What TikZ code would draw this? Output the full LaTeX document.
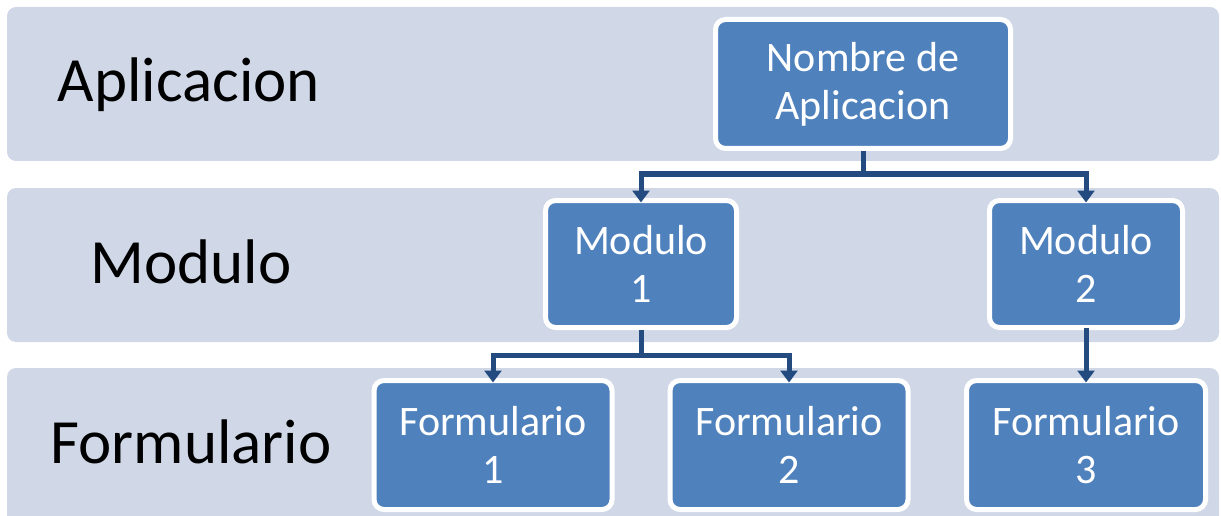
\documentclass[tikz,border=0pt]{standalone}
\usepackage{fontspec}
\setmainfont{Carlito}
\usetikzlibrary{arrows.meta}
\definecolor{bandfill}{HTML}{D0D8E8}
\definecolor{boxblue}{HTML}{4F81BD}
\definecolor{linkblue}{HTML}{234B7F}
\begin{document}
\begin{tikzpicture}[x=1pt,y=-1pt,
  bandbox/.style={fill=bandfill, rounded corners=9pt},
  bandlabel/.style={font=\fontsize{63}{70}\selectfont, text=black, anchor=base, inner sep=0pt},
  unit/.style={draw=white, line width=5pt, fill=boxblue, rounded corners=10pt, text=white,
    align=center, font=\fontsize{42}{48}\selectfont, inner sep=0pt, outer sep=0pt},
  link/.style={draw=linkblue, line width=5pt, line cap=rect, -{Triangle[width=17pt,length=12pt]}},
  plainlink/.style={draw=linkblue, line width=5pt}]
\useasboundingbox (0,0) rectangle (1221,516);
\clip (0,0) rectangle (1221,516);
% bands
\fill[bandbox] (7,7) rectangle (1219,161);
\fill[bandbox] (7,188) rectangle (1219,342);
\fill[bandbox] (7,368) rectangle (1219,530);
% band labels
\node[bandlabel] (lapp) at (189,102) {Aplicacion};
\node[bandlabel] (lmod) at (191,283) {Modulo};
\node[bandlabel] (lform) at (191,463) {Formulario};
% boxes
\node[unit, minimum width=295pt, minimum height=129pt] (app) at (863,84) {Nombre de\\Aplicacion};
\node[unit, minimum width=191pt, minimum height=127pt] (m1) at (641,264) {Modulo\\1};
\node[unit, minimum width=193pt, minimum height=127pt] (m2) at (1086,264) {Modulo\\2};
\node[unit, minimum width=238pt, minimum height=129pt] (f1) at (493,445) {Formulario\\1};
\node[unit, minimum width=238pt, minimum height=129pt] (f2) at (789,445) {Formulario\\2};
\node[unit, minimum width=239pt, minimum height=129pt] (f3) at (1086,445) {Formulario\\3};
% connectors
\coordinate (j1) at (863,174);
\coordinate (j2) at (641,355);
\draw[plainlink] ([yshift=-2.5pt]app.south) -- (j1);
\draw[link] (j1) -| ([yshift=-2pt]m1.north);
\draw[link] (j1) -| ([yshift=-2pt]m2.north);
\draw[plainlink] ([yshift=-2.5pt]m1.south) -- (j2);
\draw[link] (j2) -| ([yshift=-2pt]f1.north);
\draw[link] (j2) -| ([yshift=-2pt]f2.north);
\draw[link] ([yshift=-2.5pt]m2.south) -- ([yshift=-2pt]f3.north);
\end{tikzpicture}
\end{document}
